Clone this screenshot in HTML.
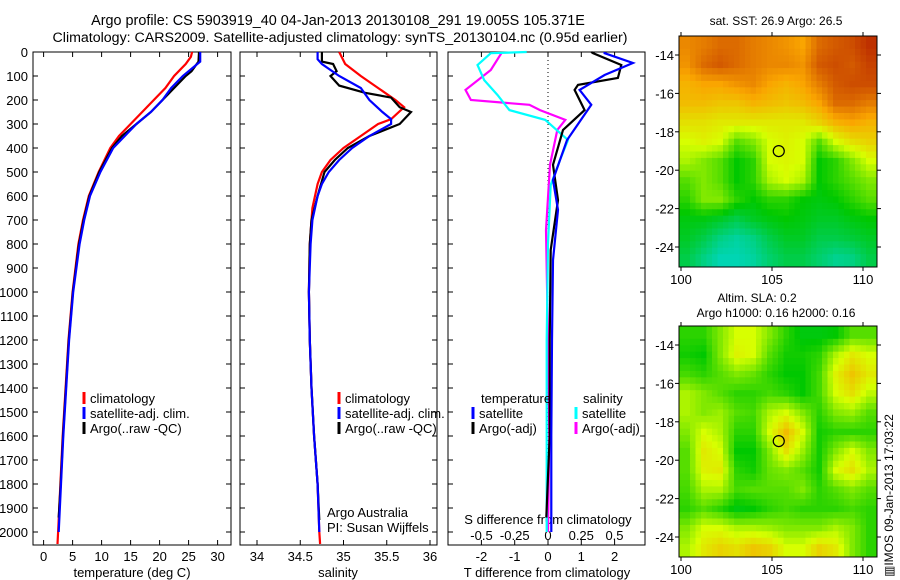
<!DOCTYPE html>
<html><head><meta charset="utf-8"><style>
body{margin:0;background:#fff;}
svg{display:block;font-family:"Liberation Sans",sans-serif;}
</style></head><body>
<svg id="c" width="900" height="580" viewBox="0 0 900 580">
<text x="338" y="25" font-size="14.4" text-anchor="middle">Argo profile: CS 5903919_40 04-Jan-2013 20130108_291 19.005S 105.371E</text>
<text x="340" y="42" font-size="14.2" text-anchor="middle">Climatology: CARS2009. Satellite-adjusted climatology: synTS_20130104.nc (0.95d earlier)</text>
</svg>
<script>
// ---- data ----
const depthTicks=[0,100,200,300,400,500,600,700,800,900,1000,1100,1200,1300,1400,1500,1600,1700,1800,1900,2000];
const tTicks=[0,5,10,15,20,25,30];
const sTicks=[34,34.5,35,35.5,36];
const dTicks=[-2,-1,0,1,2];
const dsTicks=[-0.5,-0.25,0,0.25,0.5];
const tClimD=[0,20,50,100,150,200,250,300,350,400,500,600,700,800,1000,1200,1400,1600,1800,2000,2050];
const tClim=[25.6,25.4,24.5,22.5,21,19,17,15,13,11.5,9.5,7.8,6.8,6,5,4.3,3.8,3.3,2.9,2.5,2.4];
const tSatD=[0,40,100,150,200,250,300,350,400,500,600,700,800,1000,1200,1400,1600,1800,2000];
const tSat=[27,27,24,22,20.5,18.5,16,14,12,9.8,8,7,6.2,5.1,4.4,3.9,3.4,3,2.6];
const tArgoD=[0,40,80,100,150,200,250,300,350,400,500,600,700,800,1000,1200,1400,1600,1800,1940];
const tArgo=[26.8,26.7,25.5,24.5,22.5,20.5,18.5,16,13.5,11.8,9.6,7.9,6.9,6.1,5.05,4.35,3.85,3.35,2.95,2.6];
const sClimD=[0,50,100,150,200,230,280,300,350,400,450,500,550,600,650,700,800,1000,1200,1400,1600,1800,2000,2050];
const sClim=[34.95,35.02,35.2,35.4,35.6,35.7,35.55,35.4,35.2,35.0,34.85,34.75,34.7,34.67,34.64,34.63,34.61,34.6,34.61,34.63,34.66,34.7,34.72,34.73];
const sSatD=[0,30,50,100,150,200,250,280,300,350,400,450,500,550,600,700,800,1000,1200,1400,1600,1800,2000];
const sSat=[34.7,34.7,34.75,34.95,35.2,35.3,35.45,35.55,35.55,35.3,35.1,34.95,34.83,34.75,34.7,34.64,34.62,34.6,34.61,34.63,34.66,34.7,34.72];
const sArgoD=[0,40,50,80,100,140,170,190,230,250,300,350,400,450,500,600,700,800,1000,1200,1400,1600,1800,1950];
const sArgo=[34.75,34.75,34.88,34.92,34.85,34.95,35.25,35.55,35.65,35.78,35.65,35.3,35.05,34.9,34.78,34.7,34.63,34.61,34.6,34.61,34.63,34.66,34.7,34.72];
const dTSatD=[0,5,46,96,158,220,367,533,658,867,1200,1600,2000];
const dTSat=[1.7,1.7,2.55,1.7,0.95,1.3,0.57,0.15,0.3,0.15,0.12,0.1,0.1];
const dTArgoD=[0,5,54,108,137,158,242,325,470,617,825,1200,1600,1940];
const dTArgo=[1.3,1.35,2.2,2.1,0.9,0.8,1.1,0.45,0.15,0.3,0.08,0.05,0.05,-0.05];
const dSArgoD=[0,5,75,158,200,220,242,283,325,470,742,1200,1600,2000];
const dSArgo=[-0.35,-0.35,-0.43,-0.62,-0.58,-0.14,-0.06,0.13,0.07,0.015,-0.015,0.0,0.01,0.0];
const dSSatD=[0,5,54,117,179,242,283,367,450,554,800,1200,1600,2000];
const dSSat=[-0.16,-0.43,-0.53,-0.48,-0.38,-0.29,-0.02,0.15,0.09,0.02,0.0,-0.01,-0.01,-0.01];
const lonTicks=[100,105,110];
const latTicks=[-14,-16,-18,-20,-22,-24];
const sstGrid=[
[0.8,0.82,0.85,0.85,0.82,0.8,0.78,0.75,0.85,0.88,0.9,0.95],
[0.78,0.85,0.88,0.85,0.82,0.8,0.8,0.78,0.88,0.9,0.88,0.92],
[0.72,0.75,0.75,0.78,0.8,0.75,0.72,0.75,0.82,0.88,0.9,0.9],
[0.7,0.7,0.68,0.68,0.72,0.7,0.68,0.7,0.75,0.85,0.85,0.82],
[0.62,0.62,0.6,0.6,0.6,0.6,0.6,0.6,0.65,0.72,0.75,0.72],
[0.55,0.58,0.55,0.4,0.45,0.55,0.58,0.55,0.4,0.55,0.62,0.65],
[0.5,0.45,0.4,0.3,0.35,0.55,0.57,0.55,0.3,0.35,0.45,0.55],
[0.4,0.45,0.4,0.3,0.35,0.5,0.55,0.5,0.3,0.35,0.4,0.45],
[0.35,0.45,0.45,0.35,0.3,0.35,0.35,0.3,0.28,0.3,0.35,0.4],
[0.28,0.28,0.25,0.2,0.25,0.28,0.3,0.28,0.25,0.25,0.28,0.3],
[0.25,0.2,0.12,0.08,0.12,0.2,0.25,0.25,0.2,0.2,0.22,0.25],
[0.2,0.12,0.05,0.05,0.08,0.15,0.2,0.2,0.15,0.1,0.12,0.2]];
const slaGrid=[
[0.35,0.35,0.45,0.55,0.55,0.45,0.35,0.28,0.28,0.3,0.4,0.4],
[0.32,0.3,0.45,0.58,0.55,0.4,0.32,0.32,0.35,0.5,0.6,0.55],
[0.38,0.35,0.4,0.45,0.42,0.35,0.3,0.3,0.38,0.58,0.68,0.6],
[0.5,0.45,0.4,0.35,0.35,0.38,0.35,0.3,0.38,0.55,0.62,0.52],
[0.5,0.45,0.48,0.4,0.38,0.5,0.55,0.45,0.35,0.45,0.48,0.4],
[0.45,0.55,0.5,0.35,0.35,0.55,0.7,0.55,0.32,0.35,0.35,0.35],
[0.4,0.6,0.55,0.3,0.3,0.45,0.62,0.48,0.32,0.45,0.55,0.45],
[0.4,0.58,0.6,0.35,0.32,0.42,0.45,0.4,0.32,0.55,0.62,0.5],
[0.38,0.5,0.5,0.38,0.4,0.4,0.4,0.45,0.35,0.4,0.45,0.4],
[0.35,0.4,0.35,0.28,0.3,0.35,0.38,0.35,0.35,0.35,0.38,0.35],
[0.45,0.55,0.55,0.5,0.5,0.48,0.45,0.45,0.45,0.5,0.45,0.35],
[0.5,0.6,0.65,0.62,0.68,0.65,0.55,0.55,0.65,0.6,0.45,0.35]];
const argoLon=105.371, argoLat=-19.005;

// ---- drawing ----
const svg=document.getElementById('c');const NS='http://www.w3.org/2000/svg';
function mk(tag,attrs,parent){const e=document.createElementNS(NS,tag);for(const k in attrs)e.setAttribute(k,attrs[k]);(parent||svg).appendChild(e);return e;}
function txt(x,y,s,size,anchor){const t=mk('text',{x:x,y:y,'font-size':size||13,'text-anchor':anchor||'start'});t.textContent=s;return t;}
const Y0=52,Y1=545;const yD=d=>Y0+d*0.24;
const P1={x0:33,x1:231},P2={x0:240,x1:437},P3={x0:448,x1:645};
const xT=v=>43.6+v*5.8, xS=v=>257+(v-34)*86.5, xDT=v=>548+v*33.3, xDS=v=>548+v*133;
function frame(P,name){const r=mk('rect',{x:P.x0,y:Y0,width:P.x1-P.x0,height:Y1-Y0,fill:'none',stroke:'#000','stroke-width':1});

depthTicks.forEach(d=>{mk('line',{x1:P.x0,x2:P.x0+5,y1:yD(d),y2:yD(d),stroke:'#000'});mk('line',{x1:P.x1,x2:P.x1-5,y1:yD(d),y2:yD(d),stroke:'#000'});});}
function xticks(vals,fx,labels,name){vals.forEach((v,i)=>{const x=fx(v);mk('line',{x1:x,x2:x,y1:Y1,y2:Y1-5,stroke:'#000'});mk('line',{x1:x,x2:x,y1:Y0,y2:Y0+5,stroke:'#000'});
const t=txt(x,561,labels[i],13,'middle');});}
function line(ds,vs,fx,color,name){const pts=ds.map((d,i)=>fx(vs[i]).toFixed(1)+','+yD(d).toFixed(1)).join(' ');
const p=mk('polyline',{points:pts,fill:'none',stroke:color,'stroke-width':2.2});}
function legend(x,y,color,label,name){mk('line',{x1:x,x2:x,y1:y-11,y2:y+1,stroke:color,'stroke-width':3});const t=txt(x+6,y,label,13);}
frame(P1,'temperature-panel');frame(P2,'salinity-panel');frame(P3,'difference-panel');
depthTicks.forEach(d=>{const t=txt(28,yD(d)+5,String(d),13,'end');});
xticks(tTicks,xT,tTicks.map(String),'temperature-tick-label');
xticks(sTicks,xS,sTicks.map(String),'salinity-tick-label');
xticks(dTicks,xDT,dTicks.map(String),'t-diff-tick-label');
dsTicks.forEach(v=>{const t=txt(xDS(v),540,String(v),13,'middle');});
let at=txt(132,577,'temperature (deg C)',13,'middle');
at=txt(338,577,'salinity',13,'middle');
at=txt(547,577,'T difference from climatology',13,'middle');
at=txt(548,524,'S difference from climatology',13,'middle');
const dz=mk('line',{x1:548,x2:548,y1:Y0,y2:500,stroke:'#000','stroke-dasharray':'1,3'});
line(tClimD,tClim,xT,'#f00','temp-climatology-line');line(tArgoD,tArgo,xT,'#000','temp-argo-line');line(tSatD,tSat,xT,'#00f','temp-satellite-line');
line(sClimD,sClim,xS,'#f00','sal-climatology-line');line(sArgoD,sArgo,xS,'#000','sal-argo-line');line(sSatD,sSat,xS,'#00f','sal-satellite-line');
line(dSArgoD,dSArgo,xDS,'#f0f','s-diff-argo-line');line(dSSatD,dSSat,xDS,'#0ff','s-diff-satellite-line');
line(dTArgoD,dTArgo,xDT,'#000','t-diff-argo-line');line(dTSatD,dTSat,xDT,'#00f','t-diff-satellite-line');
legend(84,403,'#f00','climatology','legend-climatology');legend(84,418,'#00f','satellite-adj. clim.','legend-satellite');legend(84,433,'#000','Argo(..raw -QC)','legend-argo');
legend(339,403,'#f00','climatology','legend-climatology');legend(339,418,'#00f','satellite-adj. clim.','legend-satellite');legend(339,433,'#000','Argo(..raw -QC)','legend-argo');
at=txt(481,403,'temperature',13);
at=txt(583,403,'salinity',13);
legend(473,418,'#00f','satellite','legend-t-satellite');legend(473,433,'#000','Argo(-adj)','legend-t-argo');
legend(576,418,'#0ff','satellite','legend-s-satellite');legend(576,433,'#f0f','Argo(-adj)','legend-s-argo');
at=txt(327,517,'Argo Australia',13);
at=txt(327,532,'PI: Susan Wijffels',13);

// maps
const stops=[[0,[0,215,215]],[0.3,[0,200,0]],[0.55,[215,255,0]],[0.75,[250,165,0]],[1,[175,20,0]]];
function cmap(v){for(let i=1;i<stops.length;i++){if(v<=stops[i][0]){const a=stops[i-1],b=stops[i],t=(v-a[0])/(b[0]-a[0]);return 'rgb('+a[1].map((c,k)=>Math.round(c+(b[1][k]-c)*t)).join(',')+')';}}return 'rgb(175,20,0)';}
function sample(grid,fr,fc){const R=grid.length,C=grid[0].length;
 const r=Math.min(Math.max(fr-0.5,0),R-1),c=Math.min(Math.max(fc-0.5,0),C-1);
 const r0=Math.floor(r),c0=Math.floor(c),r1=Math.min(r0+1,R-1),c1=Math.min(c0+1,C-1),tr=r-r0,tc=c-c0;
 return grid[r0][c0]*(1-tr)*(1-tc)+grid[r0][c1]*(1-tr)*tc+grid[r1][c0]*tr*(1-tc)+grid[r1][c1]*tr*tc;}
function map(grid,top,name){
 const lonX=lo=>681+(lo-100)*18.2, latY=la=>top+19+(-14-la)*19.2;
 const x0=679,x1=877,y0=top,y1=top+231;
 const g=mk('g',{});
 const rows=grid.length,cols=grid[0].length,S=3,cw=(x1-x0)/(cols*S),ch=(y1-y0)/(rows*S);
 for(let r=0;r<rows*S;r++)for(let c=0;c<cols*S;c++){
  const v=sample(grid,(r+0.5)/S,(c+0.5)/S);
  const cell=mk('rect',{x:(x0+c*cw).toFixed(2),y:(y0+r*ch).toFixed(2),width:(cw+0.5).toFixed(2),height:(ch+0.5).toFixed(2),fill:cmap(v)},g);
  
  }
 mk('rect',{x:x0,y:y0,width:x1-x0,height:y1-y0,fill:'none',stroke:'#000'});
 lonTicks.forEach(lo=>{const x=lonX(lo);mk('line',{x1:x,x2:x,y1:y1,y2:y1+4,stroke:'#000'});mk('line',{x1:x,x2:x,y1:y0,y2:y0-4,stroke:'#000'});const t=txt(x,y1+17,String(lo),13,'middle');});
 latTicks.forEach(la=>{const y=latY(la);mk('line',{x1:x0,x2:x0-4,y1:y,y2:y,stroke:'#000'});mk('line',{x1:x1,x2:x1+4,y1:y,y2:y,stroke:'#000'});const t=txt(674,y+5,String(la),13,'end');});
 const c=mk('circle',{cx:lonX(argoLon),cy:latY(argoLat),r:5.5,fill:'none',stroke:'#000','stroke-width':1.2});
}
map(sstGrid,36,'sst-map');map(slaGrid,326,'sla-map');
at=txt(776,25,'sat. SST: 26.9 Argo: 26.5',12,'middle');
at=txt(757,302,'Altim. SLA: 0.2',12,'middle');
at=txt(776,317,'Argo h1000: 0.16 h2000: 0.16',12,'middle');
at=txt(0,0,'\u25A5IMOS 09-Jan-2013 17:03:22',12,'start');at.setAttribute('transform','translate(893,577) rotate(-90)');
</script>
</body></html>
